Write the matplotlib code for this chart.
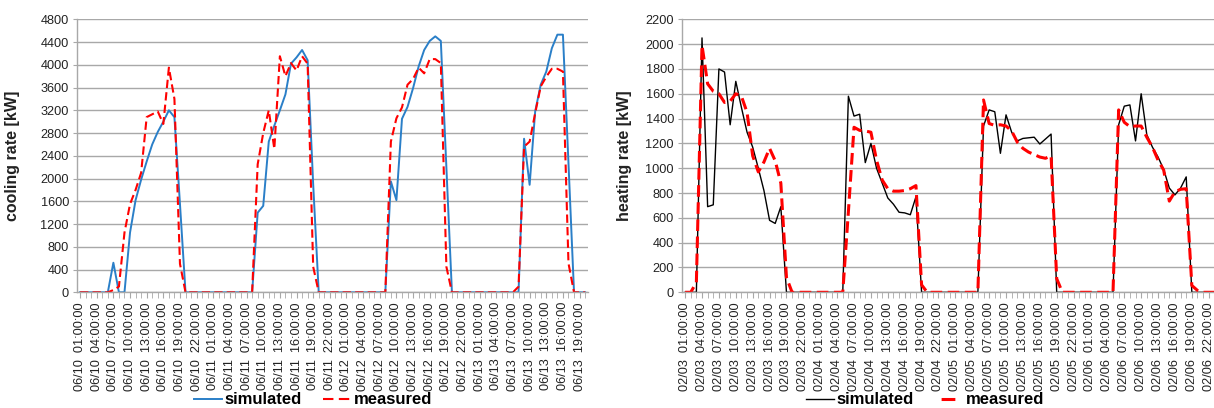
import matplotlib
matplotlib.use("Agg")
import matplotlib.pyplot as plt
import pandas as pd
from matplotlib.lines import Line2D
from matplotlib.ticker import MultipleLocator, FixedLocator

plt.rcParams['font.family'] = ['Liberation Sans', 'DejaVu Sans']

# cooling period, hourly from 06/10 01:00
cool_times = pd.date_range('2013-06-10 01:00', periods=92, freq='h')
cool_sim = [0, 0, 0, 0, 0, 0, 520, 0, 0, 1050, 1620, 1980, 2300, 2600, 2820, 3000,
            3200, 3080, 1550, 0, 0, 0, 0, 0, 0, 0, 0, 0, 0, 0, 0, 0,
            1400, 1520, 2650, 2930, 3200, 3480, 4020, 4130, 4260, 4080, 1900, 0, 0, 0, 0, 0,
            0, 0, 0, 0, 0, 0, 0, 0, 1950, 1620, 3050, 3260, 3590, 3970, 4260, 4420,
            4500, 4420, 2200, 0, 0, 0, 0, 0, 0, 0, 0, 0, 0, 0, 0, 0,
            2700, 1890, 3180, 3650, 3880, 4290, 4530, 4530, 2270, 0, 0, 0]
cool_meas = [0, 0, 0, 0, 0, 0, 40, 100, 1050, 1550, 1800, 2100, 3080, 3130, 3180, 2960,
             3950, 3400, 500, 0, 0, 0, 0, 0, 0, 0, 0, 0, 0, 0, 0, 0,
             2250, 2800, 3200, 2520, 4150, 3800, 4030, 3900, 4150, 4020, 450, 0, 0, 0, 0, 0,
             0, 0, 0, 0, 0, 0, 0, 0, 2650, 3060, 3250, 3650, 3750, 3950, 3850, 4100,
             4100, 4030, 450, 0, 0, 0, 0, 0, 0, 0, 0, 0, 0, 0, 0, 100,
             2560, 2650, 3150, 3620, 3790, 3930, 3930, 3880, 510, 0, 0, 0]

# heating period, hourly from 02/03 01:00
heat_times = pd.date_range('2013-02-03 01:00', periods=96, freq='h')
heat_sim = [0, 0, 0, 2050, 690, 705, 1800, 1775, 1350, 1700, 1490, 1290, 1170, 1000, 820, 580,
            555, 690, 0, 0, 0, 0, 0, 0, 0, 0, 0, 0, 0, 1580, 1420, 1435,
            1045, 1200, 1000, 880, 760, 710, 645, 640, 625, 770, 0, 0, 0, 0, 0, 0,
            0, 0, 0, 0, 0, 1340, 1470, 1455, 1120, 1430, 1290, 1220, 1240, 1245, 1250, 1195,
            1235, 1275, 0, 0, 0, 0, 0, 0, 0, 0, 0, 0, 0, 1350, 1500, 1510,
            1220, 1600, 1270, 1170, 1090, 990, 840, 785, 840, 930, 0, 0, 0, 0, 0, 0]
heat_meas = [0, 0, 80, 1990, 1680, 1620, 1600, 1530, 1540, 1600, 1580, 1450, 1100, 970, 1050, 1160,
             1060, 880, 120, 0, 0, 0, 0, 0, 0, 0, 0, 0, 0, 650, 1330, 1305,
             1300, 1290, 1065, 905, 835, 815, 815, 820, 835, 860, 60, 0, 0, 0, 0, 0,
             0, 0, 0, 0, 0, 1550, 1360, 1345, 1350, 1340, 1300, 1210, 1160, 1130, 1110, 1090,
             1080, 1100, 110, 0, 0, 0, 0, 0, 0, 0, 0, 0, 0, 1470, 1370, 1335,
             1340, 1340, 1250, 1170, 1065, 985, 735, 810, 830, 835, 55, 15, 0, 0, 0, 0]

W, H = 1214, 408
fig = plt.figure(figsize=(W / 100, H / 100), dpi=100)

grid_c = '#a8a8a8'
txt_c = '#222222'
leg_font = {'weight': 'bold', 'size': 12}


def style_axis(ax, times, ymax, ystep, ylabel, label_x):
    n = len(times)
    ax.set_xlim(-0.5, n - 0.5)
    ax.set_ylim(0, ymax)
    ax.yaxis.set_major_locator(MultipleLocator(ystep))
    ax.grid(axis='y', color=grid_c, lw=1.0)
    ax.set_axisbelow(True)
    for s in ['top', 'right']:
        ax.spines[s].set_visible(False)
    for s in ['left', 'bottom']:
        ax.spines[s].set_color(grid_c)
        ax.spines[s].set_linewidth(1.0)
    major = list(range(0, n, 3))
    ax.xaxis.set_major_locator(FixedLocator(major))
    ax.xaxis.set_minor_locator(FixedLocator(list(range(n))))
    ax.set_xticklabels(times[::3].strftime('%m/%d  %H:%M:%S'), rotation=90,
                       fontsize=9.2, color=txt_c)
    ax.tick_params(axis='x', which='both', length=4, color=grid_c, pad=3)
    ax.tick_params(axis='y', length=3, color=grid_c, labelsize=9.2, labelcolor=txt_c, pad=3)
    ax.set_ylabel(ylabel, fontsize=11.5, fontweight='bold', color=txt_c)
    ax.yaxis.set_label_coords(label_x, 0.5)


# left: cooling
ax1 = fig.add_axes([77.3 / W, (H - 292.3) / H, 510.6 / W, 273 / H])
x1 = range(len(cool_times))
ax1.plot(x1, cool_sim, color='#2a7fc8', lw=1.4)
ax1.plot(x1, cool_meas, color='#ff0000', lw=1.5, dashes=(4, 2))
style_axis(ax1, cool_times, 4800, 400, 'cooling rate [kW]', -0.112)
h1 = [Line2D([], [], color='#2a7fc8', lw=1.4),
      Line2D([], [], color='#ff0000', lw=1.5, dashes=(5, 2.6))]
ax1.legend(h1, ['simulated', 'measured'], loc='center', bbox_to_anchor=(313 / W, 8 / H),
           bbox_transform=fig.transFigure, ncol=2, frameon=False, handlelength=1.7,
           handletextpad=0.15, columnspacing=1.3, prop=leg_font)

# right: heating
ax2 = fig.add_axes([682.3 / W, (H - 292.3) / H, 540.5 / W, 273 / H])
x2 = range(len(heat_times))
ax2.plot(x2, heat_sim, color='#000000', lw=1.0)
ax2.plot(x2, heat_meas, color='#ff0000', lw=2.2, dashes=(3.8, 1.8))
style_axis(ax2, heat_times, 2200, 200, 'heating rate [kW]', -0.093)
h2 = [Line2D([], [], color='#000000', lw=1.0),
      Line2D([], [], color='#ff0000', lw=2.2, linestyle=(24.5, (4.5, 22)))]
ax2.legend(h2, ['simulated', 'measured'], loc='center', bbox_to_anchor=(925 / W, 8 / H),
           bbox_transform=fig.transFigure, ncol=2, frameon=False, handlelength=1.7,
           handletextpad=0.15, columnspacing=1.3, prop=leg_font)

fig.savefig('out.png', dpi=100)
